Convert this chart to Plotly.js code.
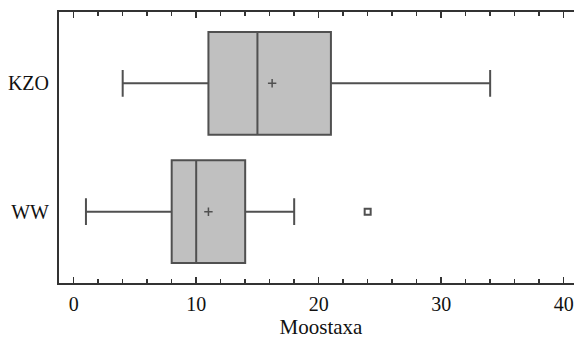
<!DOCTYPE html>
<html><head><meta charset="utf-8">
<script src="https://cdn.plot.ly/plotly-3.0.1.min.js"></script>
<style>html,body{margin:0;padding:0;background:#fff;overflow:hidden}</style>
</head><body>
<div id="chart" style="width:583px;height:339px"></div>
<script>
const groups = ['WW', 'KZO'];
const lowerWhisker = [1, 4];
const q1 = [8, 11];
const median = [10, 15];
const q3 = [14, 21];
const upperWhisker = [18, 34];
const means = [11, 16.2];
const outlierGroup = ['WW'];
const outlierValue = [24];

const lineCol = '#505050';
const traces = [
  {
    type: 'box', orientation: 'h',
    y: groups,
    q1: q1, median: median, q3: q3,
    lowerfence: lowerWhisker, upperfence: upperWhisker,
    fillcolor: '#c0c0c0',
    line: {color: lineCol, width: 2},
    whiskerwidth: 0.26,
    boxpoints: false,
    hoverinfo: 'skip',
    showlegend: false
  },
  {
    type: 'scatter', mode: 'markers',
    x: means, y: groups,
    marker: {symbol: 'cross-thin', size: 6, line: {color: lineCol, width: 1.5}},
    hoverinfo: 'skip', showlegend: false
  },
  {
    type: 'scatter', mode: 'markers',
    x: outlierValue, y: outlierGroup,
    marker: {symbol: 'square-open', size: 6, color: lineCol, line: {color: lineCol, width: 2}},
    hoverinfo: 'skip', showlegend: false
  }
];

const serif = 'Liberation Serif, Times New Roman, serif';
const layout = {
  width: 583, height: 339,
  margin: {l: 59, r: 0, t: 12, b: 56},
  paper_bgcolor: '#fff', plot_bgcolor: '#fff',
  boxgap: 0.2, boxgroupgap: 0,
  font: {family: serif, size: 20, color: '#111'},
  xaxis: {
    range: [-1.2, 41.58],
    tickvals: [0, 10, 20, 30, 40],
    ticks: 'inside', ticklen: 6, tickwidth: 1.5, tickcolor: '#333',
    minor: {dtick: 2, tick0: 0, ticks: 'inside', ticklen: 4, tickwidth: 1.5, tickcolor: '#333'},
    showline: true, linecolor: '#333', linewidth: 2,
    mirror: 'ticks',
    showgrid: false, zeroline: false,
    ticklabeloverflow: 'allow',
    ticklabelstandoff: 2,
    tickfont: {family: serif, size: 20, color: '#111'},
    title: {text: 'Moostaxa', font: {family: serif, size: 21, color: '#111'}, standoff: 4}
  },
  yaxis: {
    type: 'category',
    categoryorder: 'array', categoryarray: groups,
    range: [-0.555, 1.555],
    showline: true, linecolor: '#333', linewidth: 2,
    mirror: false,
    ticks: '', showgrid: false, zeroline: false,
    ticklabelstandoff: 4,
    tickfont: {family: serif, size: 20, color: '#111'}
  }
};

Plotly.newPlot('chart', traces, layout, {displayModeBar: false, staticPlot: true});
</script>
</body></html>
